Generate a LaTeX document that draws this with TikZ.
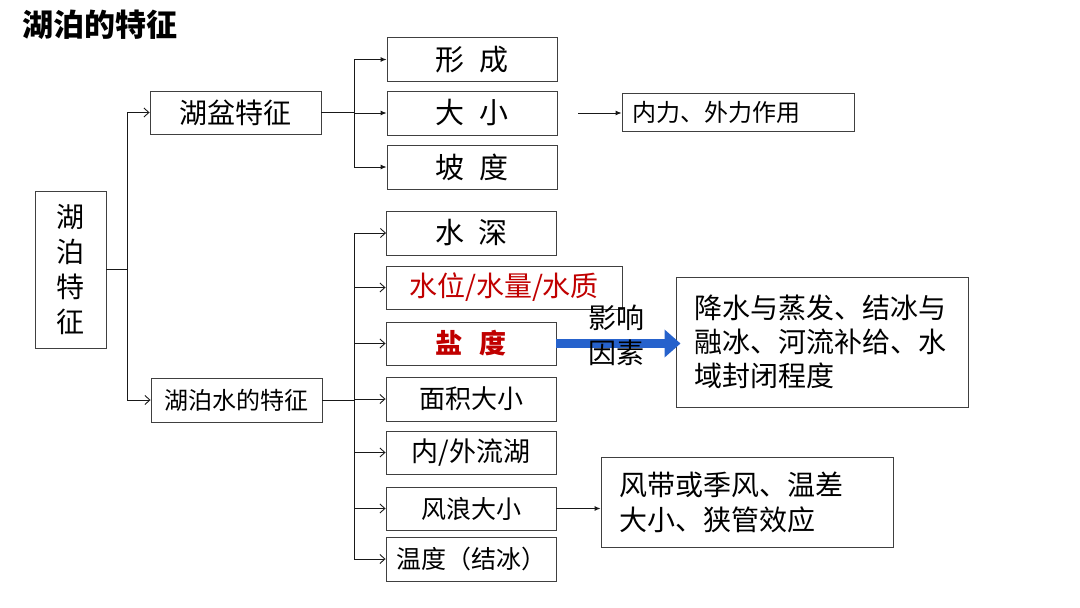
\documentclass[tikz,border=0pt]{standalone}
\usepackage{fontspec}
\setmainfont{Noto Sans CJK SC}
\usepackage{xcolor}
\usepackage{tikz}
\usetikzlibrary{calc,arrows.meta}
\definecolor{keyred}{RGB}{192,0,0}
\definecolor{flowblue}{RGB}{38,98,204}
\newcommand{\fsz}[2]{\fontsize{#1}{#2}\selectfont}
\newcommand{\cjkgap}{\hspace{0.5em}}
\tikzset{
	lbox/.style={draw=black!75,line width=0.9pt,inner sep=0pt,align=center},
	lnote/.style={draw=black!75,line width=0.9pt,inner xsep=18pt,inner ysep=0pt,align=left},
	ledge/.style={draw=black!90,line width=0.9pt},
	fillarrow/.style={ledge,-{Latex[length=6pt,width=5pt]}},
	openarrow/.style={ledge,-{Straight Barb[length=5pt,width=9pt]}},
	bigarrow/.style={draw=flowblue,line width=9pt,-{Triangle[length=16pt,width=27pt]}}
}
\begin{document}
\begin{tikzpicture}[x=1pt,y=-1pt,
		item/.style={lbox,minimum width=170pt,minimum height=44pt,font=\fsz{29}{34}},
		small/.style={lbox,minimum width=170pt,minimum height=44pt,font=\fsz{25}{30}}]
	\useasboundingbox (0,0) rectangle (1080,608);
	
	\node[anchor=west,font=\bfseries\fsz{31}{36}] (title) at (19,25) {湖泊的特征};
	
	\node[lbox,minimum width=71pt,minimum height=157pt,font=\fsz{28}{34.7}] (root) at (70.5,269.5) {湖\\泊\\特\\征};
	\node[lbox,minimum width=171pt,minimum height=43pt,font=\fsz{28}{34}] (basin) at (235.5,112.5) {湖盆特征};
	\node[lbox,minimum width=171pt,minimum height=44pt,font=\fsz{24}{30}] (water) at (236.5,400) {湖泊水的特征};
	
	\node[item] (form) at (472,59.5) {形\cjkgap 成};
	\node[item] (size) at (472,113) {大\cjkgap 小};
	\node[item] (slope) at (472,167) {坡\cjkgap 度};
	\node[lnote,minimum width=232pt,minimum height=38pt,text width=212pt,inner xsep=10pt,font=\fsz{24}{30}] (force) at (738,112) {内力、外力作用};
	
	\node[item] (depth) at (471.5,233) {水\cjkgap 深};
	\node[item,minimum width=236pt,minimum height=43pt,font=\fsz{28}{34},text=keyred] (level) at (504,287.5) {水位/水量/水质};
	\node[item,minimum height=43pt,font=\bfseries\fsz{27}{32},text=keyred] (salt) at (471,343.5) {盐\hspace{0.6em}度};
	\node[small,font=\fsz{26}{30}] (area) at (471,399) {面积大小};
	\node[small,minimum height=43pt,font=\fsz{27}{32}] (flow) at (471,452.5) {内/外流湖};
	\node[small,minimum height=43pt] (wave) at (471,508.5) {风浪大小};
	\node[small] (temp) at (471,559) {温度（结冰）};
	
	\node[lnote,minimum width=292pt,minimum height=130pt,text width=256pt,font=\fsz{28}{34}] (rain) at (822,342) {降水与蒸发、结冰与\\融冰、河流补给、水\\域封闭程度};
	\node[lnote,minimum width=292pt,minimum height=90pt,text width=256pt,font=\fsz{28}{35}] (wind) at (747,502) {风带或季风、温差\\大小、狭管效应};
	
	\coordinate (rootbus) at (127,269.5);
	\draw[ledge] (root.east) -- (rootbus);
	\draw[openarrow] (rootbus) |- (basin.west);
	\draw[openarrow] (rootbus) |- (water.west);
	
	\coordinate (basinbus) at (354,112.5);
	\draw[ledge] (basin.east) -- (basinbus);
	\foreach \n in {form,size,slope}
		\draw[fillarrow] (basinbus) |- (\n.west);
	\draw[fillarrow,shorten <=21pt] (size.east) -- (size.east -| force.west);
	
	\coordinate (waterbus) at (354,400);
	\draw[ledge] (water.east) -- (waterbus);
	\foreach \n in {depth,level,salt,area,flow,wave,temp}
		\draw[openarrow] (waterbus) |- (\n.west);
	\draw[fillarrow] (wave.east) -- (wave.east -| wind.west);
	
	\draw[bigarrow,shorten >=-5pt] (salt.east) -- (salt.east -| rain.west);
	\node[align=center,font=\fsz{28}{35}] (cause) at (616,335.5) {影响\\因素};
\end{tikzpicture}
\end{document}
